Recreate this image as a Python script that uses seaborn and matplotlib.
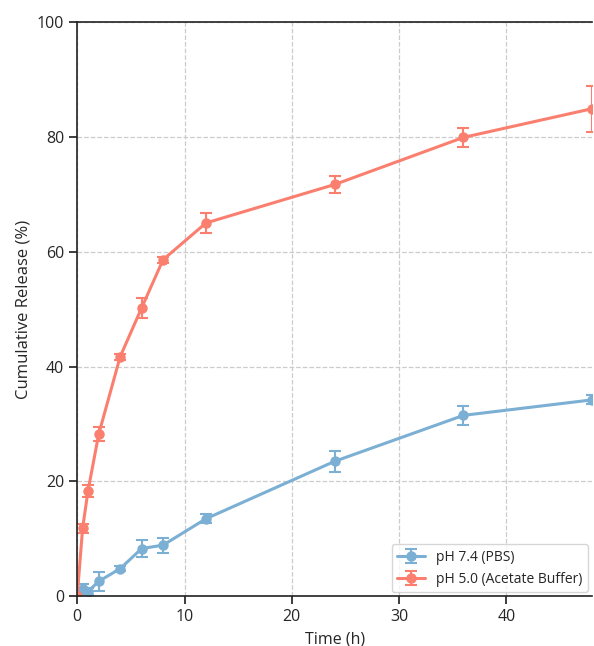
import matplotlib
matplotlib.use("Agg")
import matplotlib.pyplot as plt
import seaborn as sns
import numpy as np

time_h = [0, 0.5, 1, 2, 4, 6, 8, 12, 24, 36, 48]
pbs_mean = [0, 1.2, 0.8, 2.6, 4.8, 8.3, 8.9, 13.5, 23.5, 31.5, 34.2]
pbs_err = [0, 1.0, 0.6, 1.6, 0.4, 1.5, 1.3, 0.8, 1.8, 1.6, 0.8]
acet_mean = [0, 11.8, 18.3, 28.2, 41.7, 50.2, 58.6, 65.0, 71.7, 79.9, 84.9]
acet_err = [0, 0.8, 1.0, 1.2, 0.5, 1.8, 0.5, 1.7, 1.5, 1.6, 4.0]
labels = ["pH 7.4 (PBS)", "pH 5.0 (Acetate Buffer)"]
colors = ["#7bafd4", "#fa7f6f"]

sns.set_theme(style="ticks")
plt.rcParams['font.family'] = ['Open Sans', 'DejaVu Sans']

fig = plt.figure(figsize=(5.94, 6.46), dpi=100)
ax = fig.add_axes([0.13, 0.077, 0.867, 0.889])

for mean, err, lab, col in [(pbs_mean, pbs_err, labels[0], colors[0]),
                            (acet_mean, acet_err, labels[1], colors[1])]:
    ax.errorbar(time_h, mean, yerr=err, color=col, label=lab, marker='o',
                markersize=6.5, linewidth=2.2, capsize=4, elinewidth=1.5,
                capthick=1.5)

ax.set_xlim(0, 48)
ax.set_ylim(0, 100)
ax.set_xticks([0, 10, 20, 30, 40])
ax.set_yticks([0, 20, 40, 60, 80, 100])
ax.grid(True, linestyle='--', color='#cccccc', linewidth=0.9)
ax.set_axisbelow(True)
ax.set_xlabel("Time (h)", fontsize=11.5)
ax.set_ylabel("Cumulative Release (%)", fontsize=12)
ax.tick_params(labelsize=11.5)
for s in ax.spines.values():
    s.set_color('#222222')
    s.set_linewidth(1.2)
ax.spines['right'].set_visible(False)
ax.legend(loc='lower right', fontsize=10, frameon=True, fancybox=True,
          edgecolor='#cccccc', borderaxespad=0.3)

fig.savefig("out.png", dpi=100)
